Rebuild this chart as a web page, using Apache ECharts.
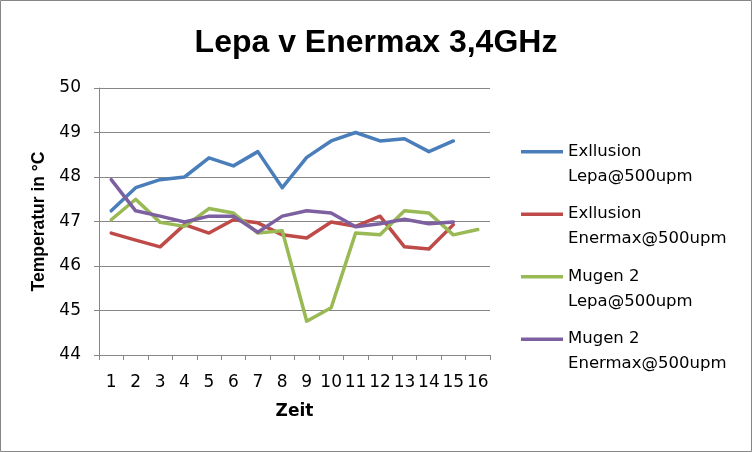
<!DOCTYPE html>
<html>
<head>
<meta charset="utf-8">
<script src="https://cdn.jsdelivr.net/npm/echarts@6/dist/echarts.min.js"></script>
<style>
html,body{margin:0;padding:0;background:#fff;}
#c{width:752px;height:452px;}
</style>
</head>
<body>
<div id="c"></div>
<script>
var categories = ['1','2','3','4','5','6','7','8','9','10','11','12','13','14','15','16'];
var exllusionLepa = [47.24,47.76,47.94,48.00,48.43,48.25,48.57,47.76,48.44,48.81,49.00,48.81,48.86,48.57,48.81,null];
var exllusionEnermax = [46.74,46.58,46.43,46.93,46.74,47.04,46.97,46.70,46.63,46.99,46.89,47.12,46.43,46.38,46.93,null];
var mugenLepa = [47.04,47.50,46.98,46.89,47.29,47.19,46.74,46.79,44.76,45.06,46.74,46.70,47.24,47.19,46.70,46.82];
var mugenEnermax = [47.94,47.24,47.12,46.99,47.12,47.12,46.76,47.12,47.24,47.19,46.88,46.95,47.05,46.95,46.99,null];
var seriesNames = ['Exllusion\nLepa@500upm','Exllusion\nEnermax@500upm','Mugen 2\nLepa@500upm','Mugen 2\nEnermax@500upm'];
var seriesData = [exllusionLepa, exllusionEnermax, mugenLepa, mugenEnermax];
var colors = ['#4a7ebb','#be4b48','#98b954','#7d60a0'];

var FONT = 'Liberation Sans';
var LFONT = 'DejaVu Sans';
var chart = echarts.init(document.getElementById('c'), null, {renderer:'canvas'});
var option = {
  animation: false,
  color: colors,
  textStyle: {fontFamily: FONT},
  title: {
    text: 'Lepa v Enermax 3,4GHz',
    left: 'center',
    top: 22,
    textStyle: {fontFamily: FONT, fontSize: 32, fontWeight: 'bold', color: '#000'}
  },
  graphic: [{
    type: 'rect',
    shape: {x: 0.5, y: 0.5, width: 751, height: 451},
    style: {fill: 'none', stroke: '#868686', lineWidth: 1},
    silent: true, z: 100
  }],
  legend: {
    orient: 'vertical',
    left: 521,
    top: 139,
    padding: 0,
    itemWidth: 42,
    itemHeight: 28,
    itemGap: 12.5,
    icon: 'path://M0,0H42V3.5H0Z M0,28',
    textStyle: {fontFamily: LFONT, fontSize: 16.5, color: '#000', lineHeight: 25},
    data: seriesNames
  },
  grid: {left: 99, right: 262, top: 88, bottom: 97, containLabel: false},
  xAxis: {
    type: 'category',
    data: categories,
    boundaryGap: true,
    name: 'Zeit',
    nameLocation: 'middle',
    nameGap: 48,
    nameTextStyle: {fontFamily: LFONT, fontSize: 17, fontWeight: 'bold', color: '#000'},
    axisLine: {lineStyle: {color: '#868686', width: 1}},
    axisTick: {show: true, alignWithLabel: false, length: 5, lineStyle: {color: '#868686'}},
    axisLabel: {fontFamily: LFONT, fontSize: 17, color: '#000', margin: 19, interval: 0},
    splitLine: {show: false}
  },
  yAxis: {
    type: 'value',
    min: 44,
    max: 50,
    interval: 1,
    name: 'Temperatur in °C',
    nameLocation: 'middle',
    nameGap: 49,
    nameRotate: 90,
    nameTextStyle: {fontFamily: FONT, fontSize: 17.5, fontWeight: 'bold', color: '#000'},
    axisLine: {show: true, lineStyle: {color: '#868686', width: 1}},
    axisTick: {show: true, length: 5, lineStyle: {color: '#868686'}},
    axisLabel: {fontFamily: LFONT, fontSize: 17, color: '#000', margin: 18},
    splitLine: {show: true, lineStyle: {color: '#868686', width: 1}}
  },
  series: seriesNames.map(function(n, i){
    return {
      name: n,
      type: 'line',
      data: seriesData[i],
      showSymbol: false,
      symbol: 'none',
      connectNulls: false,
      lineStyle: {width: 3.5, color: colors[i], join: 'round', cap: 'round'},
      itemStyle: {color: colors[i]},
      z: 2 + i
    };
  })
};
chart.setOption(option);
</script>
</body>
</html>
